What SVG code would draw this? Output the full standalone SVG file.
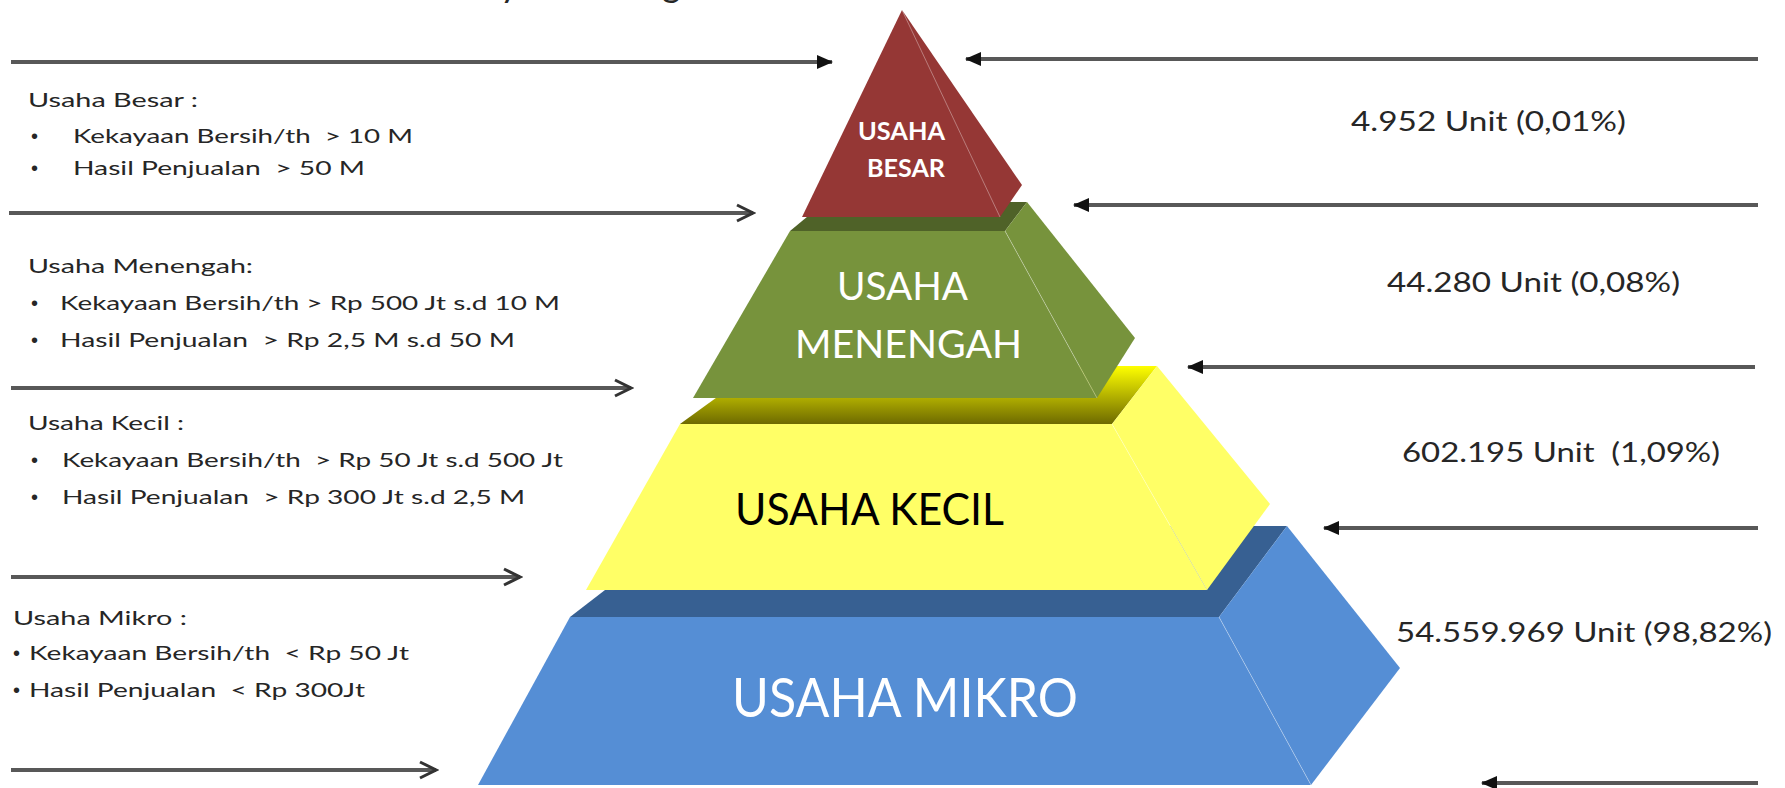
<svg xmlns="http://www.w3.org/2000/svg" width="1785" height="788" viewBox="0 0 1785 788">
<style>
  .lbl { font-family: Lato, "Open Sans", "Liberation Sans", sans-serif; fill: #262626; font-size: 20px; white-space: pre; }
  .val { font-family: Lato, "Open Sans", "Liberation Sans", sans-serif; fill: #262626; font-size: 26px; white-space: pre; }
  .bul { font-family: "Liberation Sans", sans-serif; fill: #262626; font-size: 20px; }
  .ttl { font-family: Lato, "Open Sans", "Liberation Sans", sans-serif; fill: #262626; font-size: 36px; }
  .pl  { font-family: Lato, "Open Sans", "Liberation Sans", sans-serif; }
  .conn { stroke: #585858; stroke-width: 4; fill: none; }
  .edge { stroke: #ffffff; stroke-opacity: 0.35; stroke-width: 1; fill: none; }
</style>
<defs>
  <marker id="solid" markerUnits="userSpaceOnUse" markerWidth="16" markerHeight="14" refX="15" refY="7" orient="auto">
    <path d="M0,0 L16,7 L0,14 z" fill="#111"/>
  </marker>
  <marker id="open" markerUnits="userSpaceOnUse" markerWidth="22" markerHeight="20" refX="19" refY="10" orient="auto">
    <path d="M3,2 L19,10 L3,18" fill="none" stroke="#333" stroke-width="3"/>
  </marker>
  <linearGradient id="ytop" x1="0" y1="0" x2="0" y2="1">
    <stop offset="0" stop-color="#ffff00"/>
    <stop offset="1" stop-color="#6e6a00"/>
  </linearGradient>
</defs>
<rect width="1785" height="788" fill="#ffffff"/>

<g id="title-fragment">
  <text class="ttl" x="500" y="-3">y</text>
  <text class="ttl" x="662" y="-3">g</text>
</g>

<g id="layer-mikro">
  <polygon points="570,617 688,526 1287,526 1219,617" fill="#376092"/>
  <polygon points="570,617 1219,617 1311,785 478,785" fill="#558ed5"/>
  <polygon points="1219,617 1287,526 1400,668 1311,785" fill="#558ed5"/>
  <line class="edge" x1="1219" y1="617" x2="1311" y2="785"/>
  <text class="pl" x="732" y="717" font-size="54" fill="#ffffff" textLength="346" lengthAdjust="spacingAndGlyphs">USAHA MIKRO</text>
</g>

<g id="layer-kecil">
  <polygon points="680,424 760,366 1157,366 1112,424" fill="url(#ytop)"/>
  <polygon points="680,424 1112,424 1207,590 586,590" fill="#ffff66"/>
  <polygon points="1112,424 1157,366 1270,504 1207,590" fill="#ffff66"/>
  <line class="edge" x1="1112" y1="424" x2="1207" y2="590" stroke="#c8c800" stroke-opacity="0.5"/>
  <text class="pl" x="735" y="525" font-size="44" fill="#000000" textLength="269" lengthAdjust="spacingAndGlyphs">USAHA KECIL</text>
</g>

<g id="layer-menengah">
  <polygon points="790,231 825,202 1027,202 1005,231" fill="#4f6228"/>
  <polygon points="790,231 1005,231 1097,398 693,398" fill="#77933c"/>
  <polygon points="1005,231 1027,202 1135,338 1097,398" fill="#77933c"/>
  <line class="edge" x1="1005" y1="231" x2="1097" y2="398"/>
  <text class="pl" x="837" y="300" font-size="39" fill="#ffffff" textLength="131" lengthAdjust="spacingAndGlyphs">USAHA</text>
  <text class="pl" x="795" y="358" font-size="39" fill="#ffffff" textLength="227" lengthAdjust="spacingAndGlyphs">MENENGAH</text>
</g>

<g id="layer-besar">
  <polygon points="902,10 1022,185 1000,217 802,217" fill="#953735"/>
  <line class="edge" x1="902" y1="10" x2="1000" y2="217" stroke-opacity="0.07"/>
  <text class="pl" x="858" y="140" font-size="24" font-weight="bold" fill="#ffffff" textLength="87" lengthAdjust="spacingAndGlyphs">USAHA</text>
  <text class="pl" x="867" y="177" font-size="24" font-weight="bold" fill="#ffffff" textLength="78" lengthAdjust="spacingAndGlyphs">BESAR</text>
</g>

<g id="desc-besar">
  <text class="lbl" x="28" y="107" textLength="170" lengthAdjust="spacingAndGlyphs">Usaha Besar :</text>
  <text class="bul" x="31" y="143">•</text>
  <text class="lbl" x="73" y="143" textLength="340" lengthAdjust="spacingAndGlyphs">Kekayaan Bersih/th  &gt; 10 M</text>
  <text class="bul" x="31" y="175">•</text>
  <text class="lbl" x="73" y="175" textLength="292" lengthAdjust="spacingAndGlyphs">Hasil Penjualan  &gt; 50 M</text>
</g>

<g id="desc-menengah">
  <text class="lbl" x="28" y="273" textLength="225" lengthAdjust="spacingAndGlyphs">Usaha Menengah:</text>
  <text class="bul" x="31" y="310">•</text>
  <text class="lbl" x="60" y="310" textLength="500" lengthAdjust="spacingAndGlyphs">Kekayaan Bersih/th &gt; Rp 500 Jt s.d 10 M</text>
  <text class="bul" x="31" y="347">•</text>
  <text class="lbl" x="60" y="347" textLength="455" lengthAdjust="spacingAndGlyphs">Hasil Penjualan  &gt; Rp 2,5 M s.d 50 M</text>
</g>

<g id="desc-kecil">
  <text class="lbl" x="28" y="430" textLength="156" lengthAdjust="spacingAndGlyphs">Usaha Kecil :</text>
  <text class="bul" x="31" y="467">•</text>
  <text class="lbl" x="62" y="467" textLength="501" lengthAdjust="spacingAndGlyphs">Kekayaan Bersih/th  &gt; Rp 50 Jt s.d 500 Jt</text>
  <text class="bul" x="31" y="504">•</text>
  <text class="lbl" x="62" y="504" textLength="463" lengthAdjust="spacingAndGlyphs">Hasil Penjualan  &gt; Rp 300 Jt s.d 2,5 M</text>
</g>

<g id="desc-mikro">
  <text class="lbl" x="13" y="625" textLength="174" lengthAdjust="spacingAndGlyphs">Usaha Mikro :</text>
  <text class="bul" x="13" y="660" font-size="16">•</text>
  <text class="lbl" x="29" y="660" textLength="380" lengthAdjust="spacingAndGlyphs">Kekayaan Bersih/th  &lt; Rp 50 Jt</text>
  <text class="bul" x="13" y="697" font-size="16">•</text>
  <text class="lbl" x="29" y="697" textLength="336" lengthAdjust="spacingAndGlyphs">Hasil Penjualan  &lt; Rp 300Jt</text>
</g>

<g id="values">
  <text class="val" x="1351" y="131" textLength="275" lengthAdjust="spacingAndGlyphs">4.952 Unit (0,01%)</text>
  <text class="val" x="1387" y="292" textLength="293" lengthAdjust="spacingAndGlyphs">44.280 Unit (0,08%)</text>
  <text class="val" x="1402" y="462" textLength="318" lengthAdjust="spacingAndGlyphs">602.195 Unit  (1,09%)</text>
  <text class="val" x="1396" y="642" textLength="376" lengthAdjust="spacingAndGlyphs">54.559.969 Unit (98,82%)</text>
</g>

<g id="connectors">
  <line class="conn" x1="11" y1="62" x2="832" y2="62" marker-end="url(#solid)"/>
  <line class="conn" x1="9" y1="213" x2="753" y2="213" marker-end="url(#open)"/>
  <line class="conn" x1="11" y1="388" x2="631" y2="388" marker-end="url(#open)"/>
  <line class="conn" x1="11" y1="577" x2="520" y2="577" marker-end="url(#open)"/>
  <line class="conn" x1="11" y1="770" x2="436" y2="770" marker-end="url(#open)"/>
  <line class="conn" x1="1758" y1="59" x2="966" y2="59" marker-end="url(#solid)"/>
  <line class="conn" x1="1758" y1="205" x2="1074" y2="205" marker-end="url(#solid)"/>
  <line class="conn" x1="1755" y1="367" x2="1188" y2="367" marker-end="url(#solid)"/>
  <line class="conn" x1="1758" y1="528" x2="1324" y2="528" marker-end="url(#solid)"/>
  <line class="conn" x1="1758" y1="783" x2="1482" y2="783" marker-end="url(#solid)"/>
</g>
</svg>
